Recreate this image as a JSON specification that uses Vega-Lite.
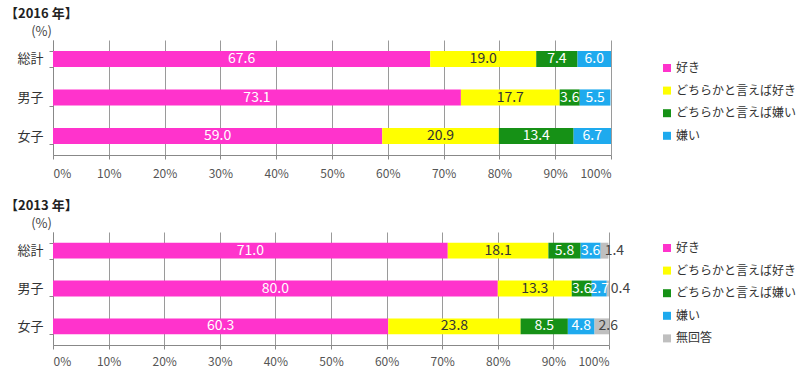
{
  "$schema": "https://vega.github.io/schema/vega-lite/v6.json",
  "background": "white",
  "padding": {"left": 4, "top": 8, "right": 0, "bottom": 0},
  "spacing": 21,
  "resolve": {"scale": {"color": "independent"}, "legend": {"color": "independent"}},
  "config": {
    "font": "Noto Sans CJK JP",
    "view": {"stroke": null},
    "title": {"font": "Noto Sans CJK JP"},
    "axis": {"labelFont": "Noto Sans CJK JP", "titleFont": "Noto Sans CJK JP"},
    "legend": {"labelFont": "Noto Sans CJK JP"}
  },
  "vconcat": [
    {
      "title": {"text": "【2016 年】", "anchor": "start", "frame": "bounds", "fontSize": 13, "fontWeight": "bold", "color": "#222", "offset": 4, "dx": -12},
      "width": 558,
      "height": 115,
      "data": {"values": [
        {"group": "総計", "cat": "好き", "k": 1, "value": 67.6},
        {"group": "総計", "cat": "どちらかと言えば好き", "k": 2, "value": 19.0},
        {"group": "総計", "cat": "どちらかと言えば嫌い", "k": 3, "value": 7.4},
        {"group": "総計", "cat": "嫌い", "k": 4, "value": 6.0},
        {"group": "男子", "cat": "好き", "k": 1, "value": 73.1},
        {"group": "男子", "cat": "どちらかと言えば好き", "k": 2, "value": 17.7},
        {"group": "男子", "cat": "どちらかと言えば嫌い", "k": 3, "value": 3.6},
        {"group": "男子", "cat": "嫌い", "k": 4, "value": 5.5},
        {"group": "女子", "cat": "好き", "k": 1, "value": 59.0},
        {"group": "女子", "cat": "どちらかと言えば好き", "k": 2, "value": 20.9},
        {"group": "女子", "cat": "どちらかと言えば嫌い", "k": 3, "value": 13.4},
        {"group": "女子", "cat": "嫌い", "k": 4, "value": 6.7}
      ]},
      "encoding": {
        "y": {"field": "group", "type": "nominal", "sort": ["総計", "男子", "女子"],
          "scale": {"paddingInner": 0.58, "paddingOuter": 0.283},
          "axis": {"tickBand": "extent", "tickSize": 4, "labelPadding": 6, "domainColor": "#888", "tickColor": "#888", "labelFontSize": 13, "labelColor": "#333", "title": "(%)", "titleAngle": 0, "titleX": -12, "titleY": -9, "titleBaseline": "middle", "titleAlign": "center", "titleFontWeight": "normal", "titleFontSize": 13, "titleColor": "#444", "grid": false}},
        "x": {"field": "value", "type": "quantitative", "stack": "zero",
          "scale": {"domain": [0, 100], "nice": false},
          "axis": {"values": [0, 10, 20, 30, 40, 50, 60, 70, 80, 90, 100], "labelExpr": "datum.value + '%'", "grid": true, "gridColor": "#9a9a9a", "domainColor": "#888", "tickColor": "#888", "tickSize": 4, "labelFontSize": 12, "labelColor": "#555", "labelPadding": 9, "title": null}},
        "order": {"field": "k"}
      },
      "layer": [
        {"mark": {"type": "bar"},
          "encoding": {"color": {"field": "cat", "type": "nominal",
            "scale": {"domain": ["好き", "どちらかと言えば好き", "どちらかと言えば嫌い", "嫌い"], "range": ["#ff33cc", "#ffff00", "#169116", "#1eaaee"]},
            "legend": {"orient": "none", "legendX": 608, "legendY": 22, "title": null, "symbolType": "square", "symbolSize": 64, "symbolStrokeWidth": 0, "labelFontSize": 12, "labelColor": "#333", "rowPadding": 10.6, "labelOffset": 3, "labelLimit": 200}}}},
        {"mark": {"type": "text", "fontSize": 14},
          "encoding": {
            "x": {"field": "value", "type": "quantitative", "stack": "zero", "bandPosition": 0.5},
            "detail": {"field": "cat"},
            "text": {"field": "value", "type": "quantitative", "format": ".1f"},
            "color": {"condition": {"test": "datum.cat === 'どちらかと言えば好き'", "value": "#333"}, "value": "white"}
          }}
      ]
    },
    {
      "title": {"text": "【2013 年】", "anchor": "start", "frame": "bounds", "fontSize": 13, "fontWeight": "bold", "color": "#222", "offset": 4, "dx": -12},
      "width": 556,
      "height": 113,
      "data": {"values": [
        {"group": "総計", "cat": "好き", "k": 1, "value": 71.0},
        {"group": "総計", "cat": "どちらかと言えば好き", "k": 2, "value": 18.1},
        {"group": "総計", "cat": "どちらかと言えば嫌い", "k": 3, "value": 5.8},
        {"group": "総計", "cat": "嫌い", "k": 4, "value": 3.6},
        {"group": "総計", "cat": "無回答", "k": 5, "value": 1.4},
        {"group": "男子", "cat": "好き", "k": 1, "value": 80.0},
        {"group": "男子", "cat": "どちらかと言えば好き", "k": 2, "value": 13.3},
        {"group": "男子", "cat": "どちらかと言えば嫌い", "k": 3, "value": 3.6},
        {"group": "男子", "cat": "嫌い", "k": 4, "value": 2.7},
        {"group": "男子", "cat": "無回答", "k": 5, "value": 0.4},
        {"group": "女子", "cat": "好き", "k": 1, "value": 60.3},
        {"group": "女子", "cat": "どちらかと言えば好き", "k": 2, "value": 23.8},
        {"group": "女子", "cat": "どちらかと言えば嫌い", "k": 3, "value": 8.5},
        {"group": "女子", "cat": "嫌い", "k": 4, "value": 4.8},
        {"group": "女子", "cat": "無回答", "k": 5, "value": 2.6}
      ]},
      "encoding": {
        "y": {"field": "group", "type": "nominal", "sort": ["総計", "男子", "女子"],
          "scale": {"paddingInner": 0.58, "paddingOuter": 0.283},
          "axis": {"tickBand": "extent", "tickSize": 4, "labelPadding": 6, "domainColor": "#888", "tickColor": "#888", "labelFontSize": 13, "labelColor": "#333", "title": "(%)", "titleAngle": 0, "titleX": -12, "titleY": -9, "titleBaseline": "middle", "titleAlign": "center", "titleFontWeight": "normal", "titleFontSize": 13, "titleColor": "#444", "grid": false}},
        "x": {"field": "value", "type": "quantitative", "stack": "zero",
          "scale": {"domain": [0, 100], "nice": false},
          "axis": {"values": [0, 10, 20, 30, 40, 50, 60, 70, 80, 90, 100], "labelExpr": "datum.value + '%'", "grid": true, "gridColor": "#9a9a9a", "domainColor": "#888", "tickColor": "#888", "tickSize": 4, "labelFontSize": 12, "labelColor": "#555", "labelPadding": 7, "title": null}},
        "order": {"field": "k"}
      },
      "layer": [
        {"mark": {"type": "bar"},
          "encoding": {"color": {"field": "cat", "type": "nominal",
            "scale": {"domain": ["好き", "どちらかと言えば好き", "どちらかと言えば嫌い", "嫌い", "無回答"], "range": ["#ff33cc", "#ffff00", "#169116", "#1eaaee", "#bfbfbf"]},
            "legend": {"orient": "none", "legendX": 608, "legendY": 10, "title": null, "symbolType": "square", "symbolSize": 64, "symbolStrokeWidth": 0, "labelFontSize": 12, "labelColor": "#333", "rowPadding": 10.6, "labelOffset": 3, "labelLimit": 200}}}},
        {"mark": {"type": "text", "fontSize": 14},
          "encoding": {
            "x": {"field": "value", "type": "quantitative", "stack": "zero", "bandPosition": 0.5},
            "detail": {"field": "cat"},
            "text": {"field": "value", "type": "quantitative", "format": ".1f"},
            "color": {"condition": {"test": "datum.cat === 'どちらかと言えば好き'", "value": "#333"}, "value": "white"},
            "opacity": {"condition": {"test": "datum.cat === '無回答'", "value": 0}, "value": 1}
          }},
        {"mark": {"type": "text", "fontSize": 14, "align": "left", "dx": 4, "color": "#444"},
          "encoding": {
            "x": {"field": "value", "type": "quantitative", "stack": "zero", "bandPosition": 0},
            "detail": {"field": "cat"},
            "text": {"field": "value", "type": "quantitative", "format": ".1f"},
            "opacity": {"condition": {"test": "datum.cat === '無回答'", "value": 1}, "value": 0}
          }}
      ]
    }
  ]
}
